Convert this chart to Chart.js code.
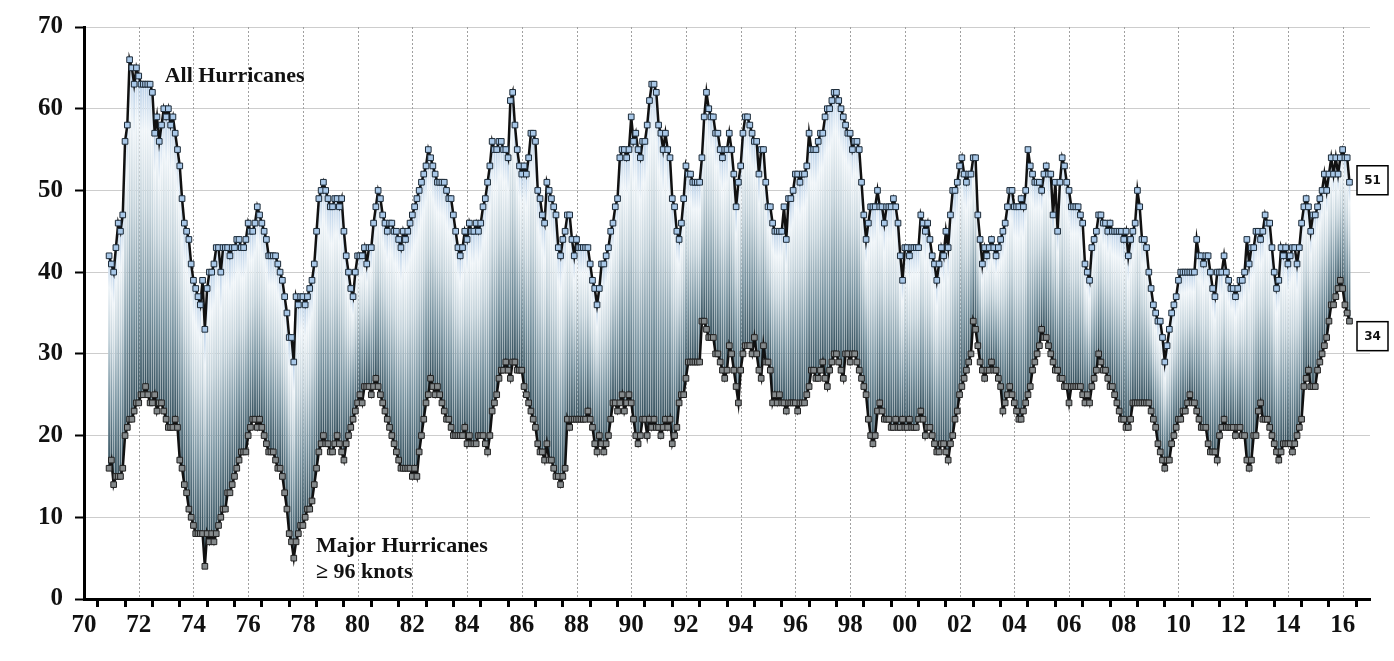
<!DOCTYPE html>
<html>
<head>
<meta charset="utf-8">
<script src="https://cdn.jsdelivr.net/npm/chart.js@4.4.0/dist/chart.umd.min.js"></script>
<style>
  html, body { margin: 0; padding: 0; background: #ffffff; }
  canvas { display: block; }
</style>
</head>
<body>
<canvas id="chart" width="1394" height="661"></canvas>
<script>
// Monthly series, first value = December 1970, last value = April 2016
const firstYear = 70;
const firstMonth = 11; // 0-based month index of the first value (December)

// Count of all hurricanes (24-month running total)
const allHurricanes = [
  42,41,40,43,46,45,47,56,58,66, 65,63,65,64,63,63,63,63,63,62,
  57,59,56,58,60,59,60,58,59,57, 55,53,49,46,45,44,41,39,38,37,
  36,39,33,38,40,40,41,43,43,40, 43,43,43,42,43,43,44,44,43,43,
  44,46,45,45,46,48,47,46,45,44, 42,42,42,42,41,40,39,37,35,32,
  32,29,37,36,37,37,36,37,38,39, 41,45,49,50,51,50,49,48,48,49,
  49,48,49,45,42,40,38,37,40,42, 42,42,43,41,43,43,46,48,50,49,
  47,46,45,46,46,45,45,44,43,45, 44,45,46,47,48,49,50,51,52,53,
  55,54,53,52,51,51,51,51,50,49, 49,47,45,43,42,43,45,44,46,45,
  45,46,45,46,48,49,51,53,56,55, 55,56,56,55,55,54,61,62,58,55,
  53,52,53,52,54,57,57,56,50,49, 47,46,51,50,49,48,47,43,42,44,
  45,47,47,44,42,44,43,43,43,43, 43,41,39,38,36,38,41,41,42,43,
  45,46,48,49,54,55,55,54,55,59, 56,57,55,54,56,56,58,61,63,63,
  62,58,57,55,57,55,54,49,48,45, 44,46,49,53,52,52,51,51,51,51,
  54,59,62,60,59,59,57,57,55,54, 55,55,57,55,52,48,51,53,57,59,
  59,58,57,56,56,52,55,55,51,48, 48,46,45,45,45,45,48,44,49,49,
  50,52,52,51,52,52,53,57,55,55, 55,56,57,57,59,60,60,61,62,62,
  61,60,59,58,57,57,55,56,56,55, 51,47,44,46,48,48,48,50,48,48,
  46,48,48,48,49,48,46,42,39,43, 43,42,43,43,43,43,47,46,45,46,
  44,42,41,39,41,43,42,45,43,47, 50,50,51,53,54,52,51,52,52,54,
  54,47,44,41,43,42,43,44,43,42, 43,44,45,46,48,50,50,48,48,48,
  49,48,50,55,53,52,51,51,51,50, 52,53,52,52,47,51,45,51,54,53,
  51,50,48,48,48,48,47,46,41,40, 39,43,44,45,47,47,46,46,45,46,
  45,45,45,45,45,44,45,42,44,45, 46,50,48,44,44,43,40,38,36,35,
  34,34,32,29,31,33,35,36,37,39, 40,40,40,40,40,40,40,44,42,42,
  41,42,42,40,38,37,40,40,40,42, 40,39,38,38,37,38,39,39,40,44,
  41,43,43,45,45,44,45,47,46,46, 43,40,38,39,43,42,43,41,42,43,
  43,41,43,46,48,49,48,45,47,47, 48,49,50,52,50,52,54,52,54,52,
  54,55,54,54,51
];

// Count of major hurricanes, >= 96 knots (24-month running total)
const majorHurricanes = [
  16,17,14,15,15,15,16,20,21,22, 22,23,24,24,25,25,26,25,24,24,
  25,23,24,24,23,22,21,21,21,22, 21,17,16,14,13,11,10,9,8,8,
  8,8,4,8,7,8,7,8,9,10, 11,11,13,13,14,15,16,17,18,18,
  18,20,21,22,22,21,22,21,20,19, 18,18,18,17,16,16,15,13,11,8,
  7,5,7,8,9,9,10,11,11,12, 14,16,18,19,20,19,19,18,18,19,
  20,19,18,17,19,20,21,22,23,24, 25,24,26,26,26,25,26,27,26,25,
  24,23,22,21,20,19,18,17,16,16, 16,16,16,15,16,15,18,20,22,24,
  25,27,26,25,26,25,24,23,22,22, 21,20,20,20,20,20,21,19,20,19,
  19,19,20,20,20,19,18,20,23,24, 25,27,28,28,29,28,27,29,29,28,
  28,28,26,25,24,23,22,21,19,18, 18,17,19,17,17,16,15,15,14,15,
  16,22,21,22,22,22,22,22,22,22, 23,22,21,19,18,20,19,18,19,20,
  22,24,24,23,24,25,23,24,25,24, 22,20,19,20,22,22,20,22,21,22,
  21,21,20,21,22,21,22,19,20,21, 24,25,25,27,29,29,29,29,29,29,
  34,34,33,32,32,32,30,30,29,28, 27,28,31,30,28,26,24,28,30,31,
  31,31,30,32,30,28,27,31,29,29, 28,24,25,24,25,24,24,23,24,24,
  24,24,23,24,24,24,25,26,28,28, 27,27,28,29,27,26,28,29,30,30,
  29,28,27,30,30,29,30,30,29,28, 27,26,25,22,20,19,20,23,24,23,
  22,22,22,21,21,22,21,21,22,21, 21,22,21,21,21,22,23,22,20,21,
  21,20,19,18,18,19,19,18,17,19, 20,22,23,25,26,27,28,29,30,34,
  33,31,29,28,27,28,28,29,28,28, 27,26,23,24,25,26,25,24,23,22,
  22,23,24,25,26,28,29,30,31,33, 32,32,31,30,29,28,28,27,27,26,
  26,24,26,26,26,26,26,25,24,25, 24,26,27,28,30,29,28,28,27,26,
  26,25,24,23,22,22,21,21,22,24, 24,24,24,24,24,24,24,23,22,21,
  19,18,17,16,17,17,19,20,21,22, 22,23,23,24,25,24,24,23,22,21,
  21,21,19,18,18,18,17,20,21,22, 21,21,21,21,20,21,21,20,20,17,
  16,17,20,20,23,24,22,22,22,21, 20,19,18,17,18,19,19,19,19,18,
  19,20,21,22,26,27,28,26,26,26, 28,29,30,31,32,34,36,36,37,38,
  39,38,36,35,34
];

const seriesLabels = ['All Hurricanes', 'Major Hurricanes'];
const majorSubLabel = '\u2265 96 knots';

const xMin = 70, xMax = 117;
const yMin = 0, yMax = 70, yStep = 10;

// Decimal year (two-digit base) for every monthly value
const months = allHurricanes.map((_, i) => firstYear + (firstMonth + i) / 12);

const serif = "'Liberation Serif', 'DejaVu Serif', serif";

// Each high-low line is shaded from its own low end (dark slate) to its high end (pale blue)
function rangeShade(ctx) {
  const chart = ctx.chart;
  if (ctx.type !== 'data' || !chart.chartArea || !chart.scales.y) return '#9fb4be';
  const ys = chart.scales.y;
  const lo = ys.getPixelForValue(ctx.raw.y[0]);
  const hi = ys.getPixelForValue(ctx.raw.y[1]);
  if (!isFinite(lo) || !isFinite(hi) || lo === hi) return '#9fb4be';
  const g = chart.ctx.createLinearGradient(0, lo, 0, hi);
  g.addColorStop(0.0, '#35505d');
  g.addColorStop(0.3, '#7893a0');
  g.addColorStop(0.6, '#c3d2da');
  g.addColorStop(0.85, '#eef4f8');
  g.addColorStop(1.0, '#b9d0e8');
  return g;
}

// Dotted vertical lines every second year
const yearGridPlugin = {
  id: 'yearGrid',
  beforeDatasetsDraw(chart) {
    const { ctx, chartArea, scales } = chart;
    ctx.save();
    ctx.strokeStyle = '#a0a0a0';
    ctx.lineWidth = 1;
    ctx.setLineDash([2, 2]);
    for (let yr = xMin + 2; yr < xMax; yr += 2) {
      const x = Math.round(scales.x.getPixelForValue(yr)) + 0.5;
      ctx.beginPath();
      ctx.moveTo(x, chartArea.top);
      ctx.lineTo(x, chartArea.bottom);
      ctx.stroke();
    }
    ctx.restore();
  }
};

// Series names and end-of-series value boxes
const annotationPlugin = {
  id: 'annotations',
  afterDraw(chart) {
    const { ctx, chartArea, scales } = chart;
    const xs = scales.x, ys = scales.y;
    ctx.save();
    ctx.fillStyle = '#111';
    ctx.font = 'bold 22px ' + serif;
    ctx.textAlign = 'left';
    ctx.textBaseline = 'middle';
    ctx.fillText(seriesLabels[0], xs.getPixelForValue(72.95), ys.getPixelForValue(64.0));
    ctx.fillText(seriesLabels[1], xs.getPixelForValue(78.48), ys.getPixelForValue(6.4));
    ctx.fillText(majorSubLabel, xs.getPixelForValue(78.48), ys.getPixelForValue(3.3));

    const lastAll = allHurricanes[allHurricanes.length - 1];
    const lastMajor = majorHurricanes[majorHurricanes.length - 1];
    const boxes = [
      { v: lastAll, dy: -2 },
      { v: lastMajor, dy: 15 }
    ];
    ctx.font = "bold 12px 'DejaVu Sans', Verdana, sans-serif";
    ctx.textAlign = 'center';
    boxes.forEach(b => {
      const cy = ys.getPixelForValue(b.v) + b.dy;
      const w = 31, h = 29;
      const left = chartArea.right - 13;
      ctx.fillStyle = '#ffffff';
      ctx.fillRect(left, cy - h / 2, w, h);
      ctx.strokeStyle = '#000';
      ctx.lineWidth = 1.5;
      ctx.strokeRect(left, cy - h / 2, w, h);
      ctx.fillStyle = '#111';
      ctx.fillText(String(b.v), left + w / 2, cy + 1);
    });
    ctx.restore();
  }
};

new Chart(document.getElementById('chart'), {
  type: 'bar',
  data: {
    datasets: [
      {
        type: 'line',
        label: seriesLabels[0],
        data: months.map((t, i) => ({ x: t, y: allHurricanes[i] })),
        borderColor: '#111111',
        borderWidth: 2.5,
        tension: 0,
        pointStyle: 'rect',
        pointRadius: 4,
        pointBackgroundColor: '#a9c8e8',
        pointBorderColor: '#1d2b38',
        pointBorderWidth: 1,
        order: 1
      },
      {
        type: 'line',
        label: seriesLabels[1],
        data: months.map((t, i) => ({ x: t, y: majorHurricanes[i] })),
        borderColor: '#111111',
        borderWidth: 2.5,
        tension: 0,
        pointStyle: 'rect',
        pointRadius: 4,
        pointBackgroundColor: '#858a8c',
        pointBorderColor: '#222222',
        pointBorderWidth: 1,
        order: 2
      },
      {
        type: 'bar',
        label: 'range',
        data: months.map((t, i) => ({ x: t, y: [majorHurricanes[i], allHurricanes[i]] })),
        backgroundColor: rangeShade,
        borderWidth: 0,
        barThickness: 1.2,
        grouped: false,
        order: 3
      }
    ]
  },
  options: {
    responsive: false,
    animation: false,
    devicePixelRatio: 1,
    layout: { padding: { top: 11, right: 24, left: 0, bottom: 0 } },
    plugins: {
      legend: { display: false },
      tooltip: { enabled: false }
    },
    scales: {
      x: {
        type: 'linear',
        min: xMin,
        max: xMax,
        offset: false,
        afterFit(scale) { scale.height = 62; },
        ticks: {
          stepSize: 1,
          autoSkip: false,
          maxRotation: 0,
          padding: 4,
          color: '#111',
          font: { family: serif, size: 25, weight: 'bold' },
          callback: v => (v % 2 === 0 && v < xMax) ? String(v % 100).padStart(2, '0') : ''
        },
        grid: {
          drawOnChartArea: false,
          drawTicks: true,
          tickLength: 8,
          tickColor: '#000',
          tickWidth: 3
        },
        border: { display: true, color: '#000', width: 3 }
      },
      y: {
        min: yMin,
        max: yMax,
        afterFit(scale) { scale.width = 84; },
        ticks: {
          stepSize: yStep,
          padding: 12,
          color: '#111',
          font: { family: serif, size: 25, weight: 'bold' }
        },
        grid: {
          color: '#cdcdcd',
          lineWidth: 1,
          tickColor: '#000',
          tickLength: 9,
          tickWidth: 2
        },
        border: { display: true, color: '#000', width: 3 }
      }
    }
  },
  plugins: [yearGridPlugin, annotationPlugin]
});
</script>
</body>
</html>
